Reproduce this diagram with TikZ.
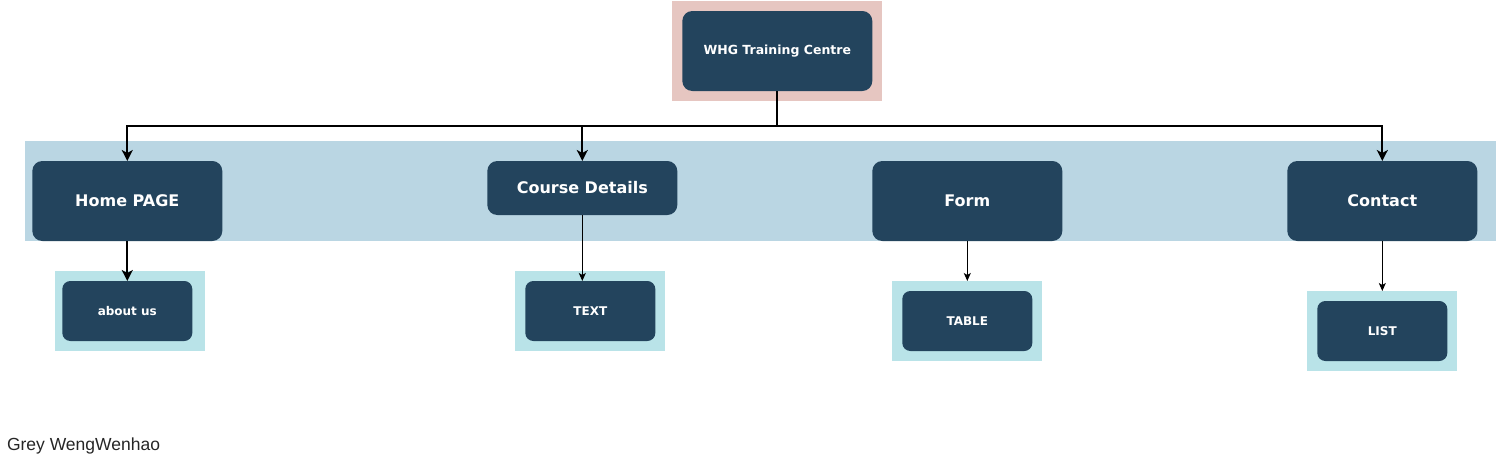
\documentclass[tikz,border=0pt]{standalone}
\usepackage{fontspec}
\setmainfont{DejaVu Sans}
\newfontfamily\footfont{Liberation Sans}
\usepackage{xcolor}
\usetikzlibrary{arrows.meta, positioning, backgrounds}
\definecolor{navy}{HTML}{23445D}
\definecolor{rosebg}{HTML}{E6C6C1}
\definecolor{bandblue}{HTML}{BAD6E3}
\definecolor{leafcyan}{HTML}{B9E3E8}

\begin{document}
\begin{tikzpicture}[x=1pt, y=-1pt,
  every node/.style={inner sep=0pt, outer sep=0pt},
  rootbox/.style={rectangle, rounded corners=10pt, fill=navy, text=white,
               font=\bfseries\fontsize{12.5}{15}\selectfont,
               minimum width=190pt, minimum height=80pt, align=center},
  pagebox/.style={rootbox, font=\bfseries\fontsize{16}{19}\selectfont},
  leafbox/.style={rootbox, rounded corners=8pt,
               font=\bfseries\fontsize{12}{14}\selectfont,
               minimum width=130pt, minimum height=60pt},
  leafbg/.style={rectangle, fill=leafcyan, minimum width=150pt,
               minimum height=80pt},
  arr/.style={-{Stealth[length=11pt, width=11pt, inset=3pt]},
              line width=2pt, black},
  thinarr/.style={-{Stealth[length=8pt, width=7pt, inset=2pt]},
              line width=1pt, black},
]
  \useasboundingbox (0,0) rectangle (1496,461);

  \node[rootbox] (root) at (777.3,51) {WHG Training Centre};

  % Pages
  \node[pagebox] (home)    at (127.3,201) {Home PAGE};
  \node[pagebox, minimum height=54pt] (course) at (582.3,188) {Course Details};
  \node[pagebox] (form)    at (967.3,201) {Form};
  \node[pagebox] (contact) at (1382.3,201) {Contact};

  % Sub pages
  \node[leafbox, below=40pt of home]               (about)  {about us};
  \node[leafbox, below=66pt of course, xshift=8pt] (textpg) {TEXT};
  \node[leafbox, below=50pt of form]               (table)  {TABLE};
  \node[leafbox, below=60pt of contact]            (list)   {LIST};

  % Backgrounds
  \begin{scope}[on background layer]
    \node[fill=rosebg, minimum width=210pt, minimum height=100pt]
         (rootbg) at (root) {};
    \node[fill=bandblue, minimum width=1471pt, minimum height=100pt]
         (band) at (760.5,191) {};
    \node[leafbg, xshift=3pt] (aboutbg) at (about)  {};
    \node[leafbg]             (textbg)  at (textpg) {};
    \node[leafbg]             (tablebg) at (table)  {};
    \node[leafbg]             (listbg)  at (list)   {};
  \end{scope}

  % Arrows from the root
  \coordinate (bus) at (777.3,125.5);
  \foreach \n in {home, course, contact}
    \draw[arr] (root.south) -- (bus) -| (\n.north);

  % Arrows to sub pages
  \draw[arr] (home.south) -- (about.north);
  \draw[thinarr] (course.south) -- (course.south |- textpg.north);
  \draw[thinarr] (form.south) -- (tablebg.north);
  \draw[thinarr] (contact.south) -- (listbg.north);

  \node[anchor=base west, font=\footfont\fontsize{17.5}{20}\selectfont,
        text=black!85] (author) at (7,450) {Grey WengWenhao};
\end{tikzpicture}
\end{document}
